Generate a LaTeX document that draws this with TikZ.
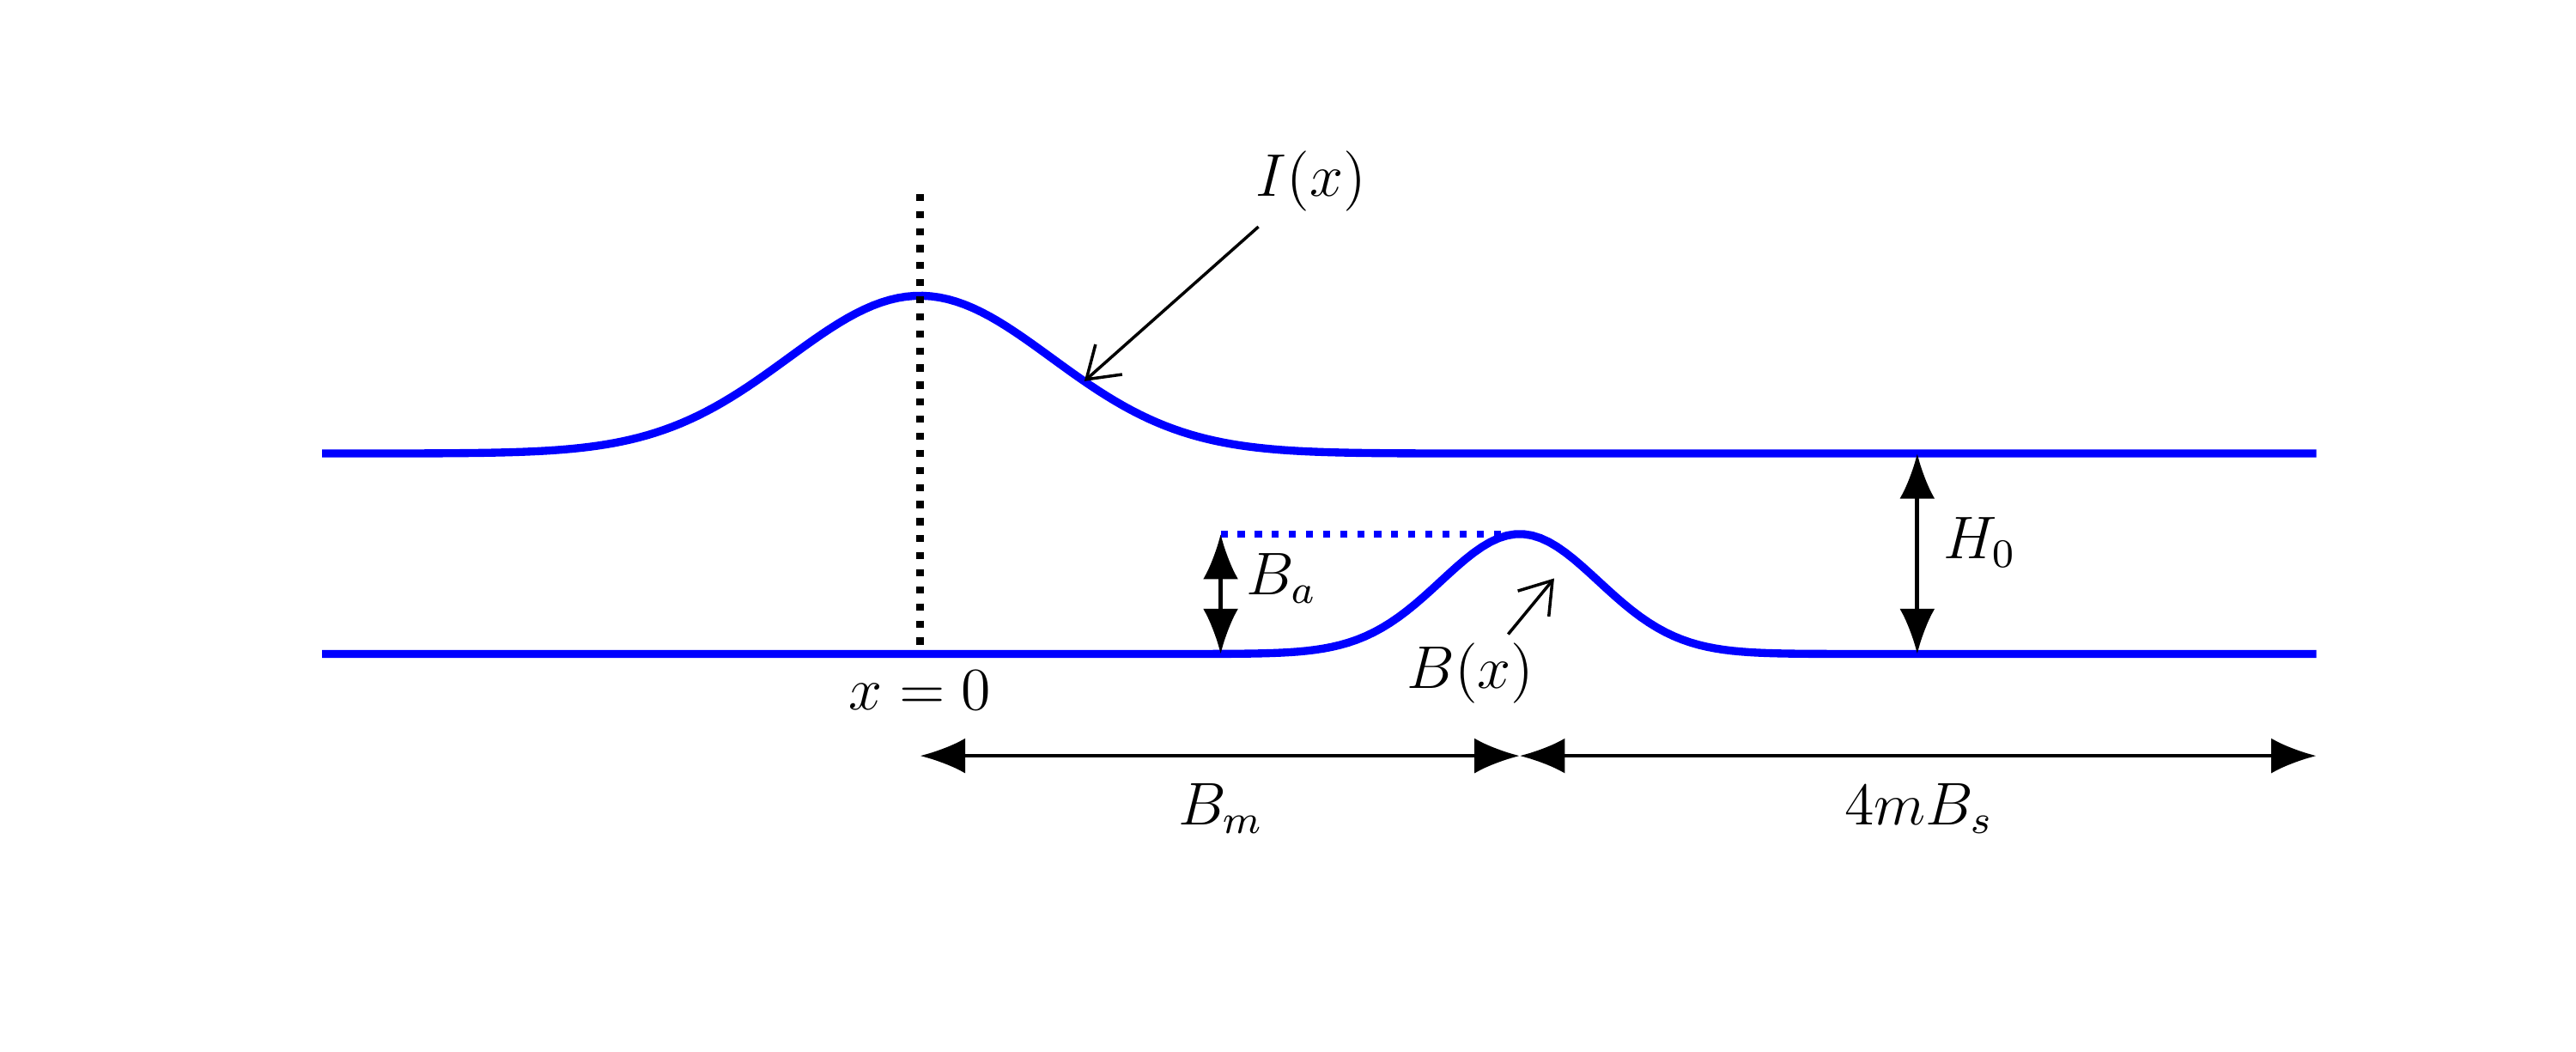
\documentclass[tikz,border=0pt]{standalone}
\usepackage{amsmath}
\usepackage{tikz}
\usetikzlibrary{arrows.meta, positioning}

\begin{document}
\begin{tikzpicture}[x=0.0115cm, y=-0.0115cm, font=\large,
    curve/.style={blue, line width=1.6pt},
    dimarrow/.style={{Latex[length=9pt,width=7pt]}-{Latex[length=9pt,width=7pt]}, thick},
    pointer/.style={-{Straight Barb[length=6pt,width=8pt]}, semithick}]
    \useasboundingbox (0,0) rectangle (1568,640);

    % Ice surface and bed
    \draw[curve] plot[domain=196:1410, samples=240] (\x, {276-96*exp(-((\x-560)/80)^2/2)});
    \draw[curve] plot[domain=196:1410, samples=240] (\x, {398-73*exp(-((\x-925)/48)^2/2)});

    % Reference points
    \coordinate (top0) at (560,118);
    \coordinate (bed0) at (560,398);
    \coordinate (peakB) at (925,325);
    \coordinate (baTop) at (743,325);
    \coordinate (baBot) at (743,398);
    \coordinate (hTop) at (1167,276);
    \coordinate (hBot) at (1167,398);
    \coordinate (dimL) at (560,460);
    \coordinate (dimM) at (925,460);
    \coordinate (dimR) at (1410,460);

    % Dotted guides
    \draw[dotted, line width=1.4pt] (top0) -- (bed0);
    \draw[dotted, blue, line width=1.4pt] (baTop) -- (peakB);

    % Heights
    \draw[dimarrow] (baTop) -- (baBot);
    \node (ba) at (780,352) {$B_a$};
    \draw[dimarrow] (hTop) -- (hBot);
    \node (h0) at (1205,330) {$H_0$};

    % Lengths
    \draw[dimarrow] (dimL) -- (dimM);
    \draw[dimarrow] (dimM) -- (dimR);
    \node (bm) at (743,492) {$B_m$};
    \node (bs) at (1168,492) {$4mB_s$};
    \node (x0) at (560,420) {$x=0$};

    % Curve labels
    \node (ix) at (798,110) {$I(x)$};
    \coordinate (ixTip) at (660,232);
    \draw[pointer] (766,138) -- (ixTip);
    \node (bx) at (895,410) {$B(x)$};
    \coordinate (bxTip) at (946,352);
    \draw[pointer] (918,386) -- (bxTip);
\end{tikzpicture}
\end{document}
